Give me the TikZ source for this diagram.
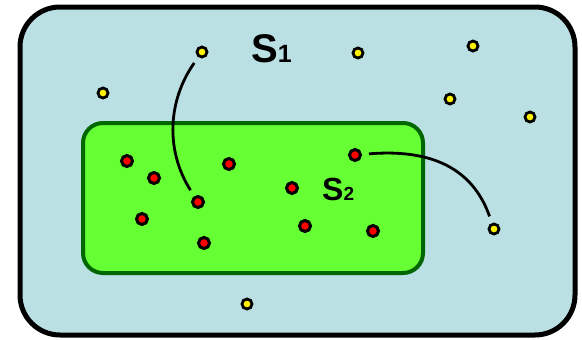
\documentclass[tikz,border=0pt]{standalone}
\usepackage{fontspec}
\setmainfont{Liberation Sans}
\definecolor{setblue}{HTML}{BBE0E3}
\definecolor{setgreen}{HTML}{66FF33}
\definecolor{darkgreenb}{HTML}{006600}
\begin{document}
\begin{tikzpicture}[x=1pt,y=-1pt,
  ydot/.style={circle,draw=black,fill=yellow,line width=2.8pt,minimum size=10pt,inner sep=0pt},
  rdot/.style={circle,draw=black,fill=red,line width=3pt,minimum size=11pt,inner sep=0pt},
  link/.style={line width=2.8pt,shorten <=7pt,shorten >=7pt},
  lbl/.style={inner sep=0pt,font=\bfseries}]
\useasboundingbox (0,0) rectangle (582,340);
% outer set S1
\draw[line width=5pt,fill=setblue,rounded corners=40pt] (20,7) rectangle (575,335);
% inner set S2
\draw[line width=4pt,draw=darkgreenb,fill=setgreen,rounded corners=20pt] (83,123) rectangle (423,273);
% yellow dots
\node[ydot] (y1) at (202,52) {};
\node[ydot] (y2) at (103,93) {};
\node[ydot] (y3) at (358,53) {};
\node[ydot] (y4) at (473,46) {};
\node[ydot] (y5) at (450,99) {};
\node[ydot] (y6) at (530,117) {};
\node[ydot] (y7) at (494,229) {};
\node[ydot] (y8) at (247,304) {};
% red dots
\node[rdot] (r1) at (127,161) {};
\node[rdot] (r2) at (229,164) {};
\node[rdot] (r3) at (154,178) {};
\node[rdot] (r4) at (198,202) {};
\node[rdot] (r5) at (142,219) {};
\node[rdot] (r6) at (204,243) {};
\node[rdot] (r7) at (292,188) {};
\node[rdot] (r8) at (305,226) {};
\node[rdot] (r9) at (373,231) {};
\node[rdot] (r10) at (355,155) {};
% links
\draw[link] (y1) .. controls (168,100) and (165,150) .. (r4);
\draw[link] (r10) .. controls (440,148) and (475,175) .. (y7);
% labels
\node[lbl,anchor=base west] (s1) at (251,63) {\fontsize{40}{40}\selectfont S\fontsize{25}{25}\selectfont 1};
\node[lbl,anchor=base west] (s2) at (322,200) {\fontsize{32}{32}\selectfont S\fontsize{19}{19}\selectfont 2};
\end{tikzpicture}
\end{document}
